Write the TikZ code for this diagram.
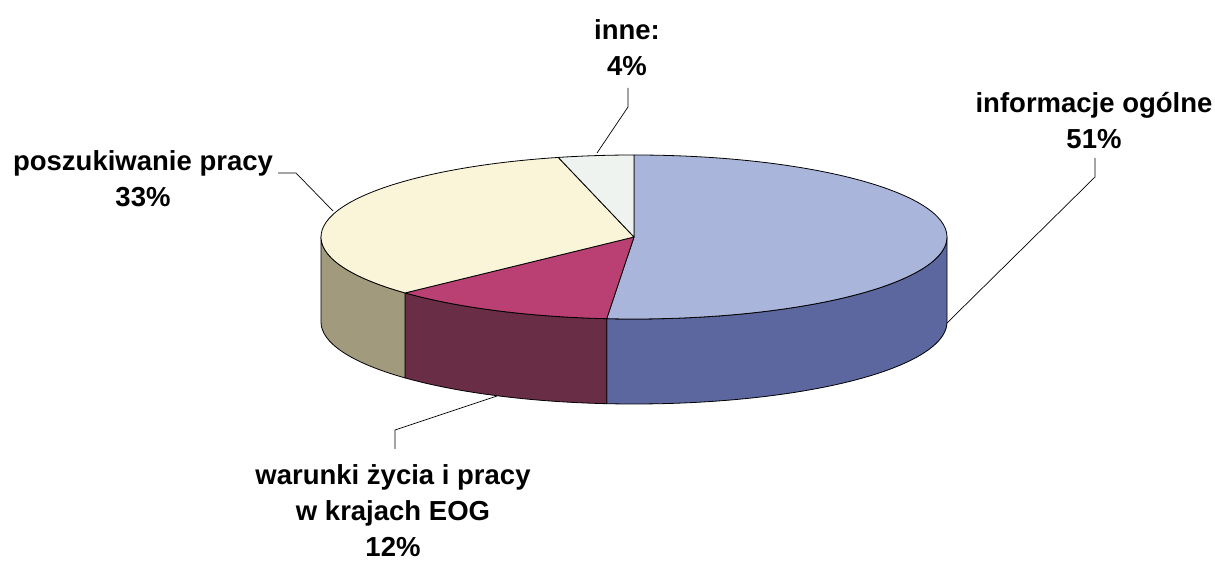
\documentclass[tikz,border=0pt]{standalone}
\usepackage{fontspec}
\setmainfont{Liberation Sans}
\definecolor{topblue}{RGB}{170,181,219}
\definecolor{sideblue}{RGB}{92,103,160}
\definecolor{topmag}{RGB}{186,64,116}
\definecolor{sidemag}{RGB}{105,46,70}
\definecolor{topcream}{RGB}{250,244,216}
\definecolor{sidecream}{RGB}{162,154,124}
\definecolor{topinne}{RGB}{238,243,240}
\begin{document}
\begin{tikzpicture}[x=1pt,y=1pt,line join=round,
  slice/.style={draw=black,line width=0.8pt},
  leader/.style={draw=black,line width=0.7pt},
  lbl/.style={align=center,inner sep=0pt,font=\fontsize{27.5}{36}\selectfont\bfseries}]
\useasboundingbox (0,0) rectangle (1215,562);
\def\cx{634}\def\cy{325}\def\rx{313}\def\ry{82}\def\dp{85}
\def\aA{-95}\def\aB{-137}\def\aC{-256}
% side faces
\path[slice,fill=sideblue] ({\cx+\rx},\cy) arc[start angle=0,end angle=\aA,x radius=\rx,y radius=\ry]
  -- ++(0,-\dp) arc[start angle=\aA,end angle=0,x radius=\rx,y radius=\ry] -- cycle;
\path[slice,fill=sidemag] ({\cx+\rx*cos(\aA)},{\cy+\ry*sin(\aA)}) arc[start angle=\aA,end angle=\aB,x radius=\rx,y radius=\ry]
  -- ++(0,-\dp) arc[start angle=\aB,end angle=\aA,x radius=\rx,y radius=\ry] -- cycle;
\path[slice,fill=sidecream] ({\cx+\rx*cos(\aB)},{\cy+\ry*sin(\aB)}) arc[start angle=\aB,end angle=-180,x radius=\rx,y radius=\ry]
  -- ++(0,-\dp) arc[start angle=-180,end angle=\aB,x radius=\rx,y radius=\ry] -- cycle;
% top slices
\path[slice,fill=topblue] (\cx,\cy) -- (\cx,{\cy+\ry}) arc[start angle=90,end angle=\aA,x radius=\rx,y radius=\ry] -- cycle;
\path[slice,fill=topmag] (\cx,\cy) -- ({\cx+\rx*cos(\aA)},{\cy+\ry*sin(\aA)}) arc[start angle=\aA,end angle=\aB,x radius=\rx,y radius=\ry] -- cycle;
\path[slice,fill=topcream] (\cx,\cy) -- ({\cx+\rx*cos(\aB)},{\cy+\ry*sin(\aB)}) arc[start angle=\aB,end angle=\aC,x radius=\rx,y radius=\ry] -- cycle;
\path[slice,fill=topinne] (\cx,\cy) -- ({\cx+\rx*cos(\aC)},{\cy+\ry*sin(\aC)}) arc[start angle=\aC,end angle=-270,x radius=\rx,y radius=\ry] -- cycle;
% labels
\node[lbl] (inne) at (627,514.5) {inne:\\4\%};
\node[lbl] (posz) at (143,383.5) {poszukiwanie pracy\\33\%};
\node[lbl] (info) at (1094,442) {informacje ogólne\\51\%};
\node[lbl] (war) at (393,51) {warunki życia i pracy\\w krajach EOG\\12\%};
% leader points
\coordinate (i1) at (628,474); \coordinate (i2) at (628,455); \coordinate (i3) at (597,409);
\coordinate (p1) at (278,389); \coordinate (p2) at (296,389); \coordinate (p3) at (333,351);
\coordinate (f1) at (1095,404); \coordinate (f2) at (1095,385); \coordinate (f3) at (947,239);
\coordinate (w1) at (395,113); \coordinate (w2) at (395,132); \coordinate (w3) at (497,166);
\draw[leader] (i1) -- (i2) -- (i3);
\draw[leader] (p1) -- (p2) -- (p3);
\draw[leader] (f1) -- (f2) -- (f3);
\draw[leader] (w1) -- (w2) -- (w3);
\end{tikzpicture}
\end{document}
